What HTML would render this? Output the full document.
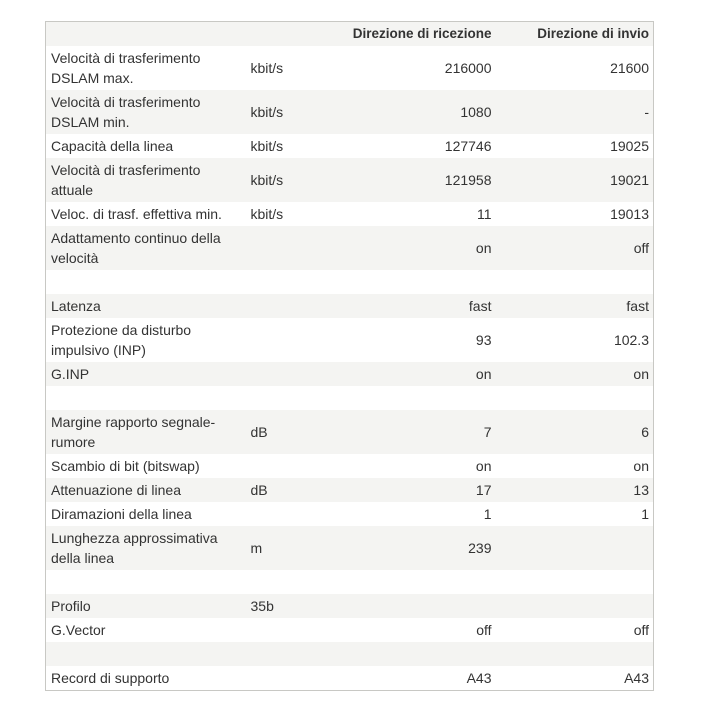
<!DOCTYPE html>
<html><head><meta charset="utf-8"><style>
body{margin:0;background:#fff;width:718px;height:715px;font-family:"Liberation Sans",sans-serif;color:#333;}
table{position:absolute;left:45px;top:21px;width:608px;table-layout:fixed;border-collapse:collapse;border:1px solid #c8c8c4;font-size:14px;line-height:20px;}
td,th{padding:2px 4px 2px 5px;vertical-align:middle;white-space:nowrap;overflow:visible;}
tr{height:24px;}
tr.t{height:44px;}
tr:nth-child(odd){background:#f4f4f2;}
tr:nth-child(even){background:#fff;}
th{font-weight:bold;text-align:right;font-size:13.5px;}
td.r{text-align:right;}
</style></head><body>
<table>
<colgroup><col style="width:200px"><col style="width:100px"><col style="width:150px"><col style="width:158px"></colgroup>
<tr><th></th><th></th><th>Direzione di ricezione</th><th>Direzione di invio</th></tr>
<tr class="t"><td>Velocità di trasferimento<br>DSLAM max.</td><td>kbit/s</td><td class="r">216000</td><td class="r">21600</td></tr>
<tr class="t"><td>Velocità di trasferimento<br>DSLAM min.</td><td>kbit/s</td><td class="r">1080</td><td class="r">-</td></tr>
<tr><td>Capacità della linea</td><td>kbit/s</td><td class="r">127746</td><td class="r">19025</td></tr>
<tr class="t"><td>Velocità di trasferimento<br>attuale</td><td>kbit/s</td><td class="r">121958</td><td class="r">19021</td></tr>
<tr><td>Veloc. di trasf. effettiva min.</td><td>kbit/s</td><td class="r">11</td><td class="r">19013</td></tr>
<tr class="t"><td>Adattamento continuo della<br>velocità</td><td></td><td class="r">on</td><td class="r">off</td></tr>
<tr><td></td><td></td><td></td><td></td></tr>
<tr><td>Latenza</td><td></td><td class="r">fast</td><td class="r">fast</td></tr>
<tr class="t"><td>Protezione da disturbo<br>impulsivo (INP)</td><td></td><td class="r">93</td><td class="r">102.3</td></tr>
<tr><td>G.INP</td><td></td><td class="r">on</td><td class="r">on</td></tr>
<tr><td></td><td></td><td></td><td></td></tr>
<tr class="t"><td>Margine rapporto segnale-<br>rumore</td><td>dB</td><td class="r">7</td><td class="r">6</td></tr>
<tr><td>Scambio di bit (bitswap)</td><td></td><td class="r">on</td><td class="r">on</td></tr>
<tr><td>Attenuazione di linea</td><td>dB</td><td class="r">17</td><td class="r">13</td></tr>
<tr><td>Diramazioni della linea</td><td></td><td class="r">1</td><td class="r">1</td></tr>
<tr class="t"><td>Lunghezza approssimativa<br>della linea</td><td>m</td><td class="r">239</td><td class="r"></td></tr>
<tr><td></td><td></td><td></td><td></td></tr>
<tr><td>Profilo</td><td>35b</td><td></td><td></td></tr>
<tr><td>G.Vector</td><td></td><td class="r">off</td><td class="r">off</td></tr>
<tr><td></td><td></td><td></td><td></td></tr>
<tr><td>Record di supporto</td><td></td><td class="r">A43</td><td class="r">A43</td></tr>
</table>
</body></html>
